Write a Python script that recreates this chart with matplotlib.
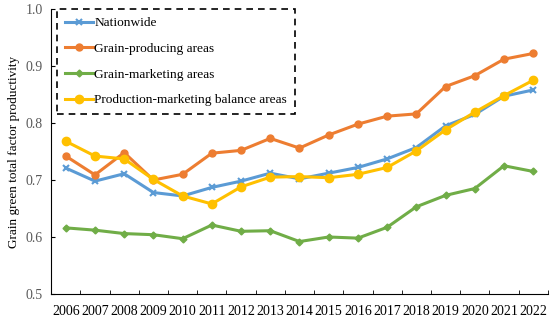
import numpy as np
import matplotlib.pyplot as plt

# data
years = [str(y) for y in range(2006, 2023)]
nationwide = [0.721, 0.698, 0.711, 0.678, 0.672, 0.687, 0.698, 0.712, 0.702, 0.712,
              0.722, 0.737, 0.757, 0.795, 0.815, 0.847, 0.858]
producing = [0.742, 0.709, 0.748, 0.700, 0.710, 0.747, 0.752, 0.773, 0.756, 0.779,
             0.798, 0.812, 0.816, 0.864, 0.883, 0.912, 0.922]
marketing = [0.616, 0.612, 0.606, 0.604, 0.597, 0.621, 0.610, 0.611, 0.592, 0.600,
             0.598, 0.617, 0.653, 0.673, 0.685, 0.725, 0.715]
balance = [0.768, 0.742, 0.737, 0.701, 0.672, 0.658, 0.688, 0.705, 0.706, 0.704,
           0.710, 0.722, 0.751, 0.788, 0.819, 0.848, 0.875]

plt.rcParams['font.family'] = ['Liberation Serif', 'DejaVu Serif']

fig = plt.figure(figsize=(5.5, 3.22), dpi=100)
ax = fig.add_axes([0.093, 0.087, 0.903, 0.885])
x = np.arange(len(years))

ax.plot(x, nationwide, color='#5B9BD5', lw=2.2, marker='x', ms=5, mew=1.5, label='Nationwide')
ax.plot(x, producing, color='#ED7D31', lw=2.2, marker='o', ms=5, label='Grain-producing areas')
ax.plot(x, marketing, color='#70AD47', lw=2.2, marker='D', ms=3.5, label='Grain-marketing areas')
ax.plot(x, balance, color='#FFC000', lw=2.2, marker='o', ms=6, label='Production-marketing balance areas')

ax.set_ylim(0.5, 1.0)
ax.set_yticks([0.5, 0.6, 0.7, 0.8, 0.9, 1.0])
ax.set_yticklabels(['0.5', '0.6', '0.7', '0.8', '0.9', '1.0'], color='#595959')
ax.set_ylabel('Grain green total factor productivity', fontsize=9.5)

ax.set_xlim(-0.5, len(years) - 0.5)
ax.set_xticks(x)
ax.set_xticklabels(years, fontsize=10)
ax.set_xticks(np.arange(-0.5, len(years)), minor=True)
ax.tick_params(axis='x', which='major', length=0, pad=8)
ax.tick_params(axis='x', which='minor', length=3, direction='in', color='#000000')
ax.tick_params(axis='y', length=3, direction='in', labelsize=10, pad=6)

for s in ['top', 'right']:
    ax.spines[s].set_visible(False)
ax.spines['left'].set_color('#000000')
ax.spines['bottom'].set_color('#000000')

leg = ax.legend(loc='upper left', bbox_to_anchor=(0.012, 1.0), borderaxespad=0,
                fontsize=9.6, handlelength=2.1, handletextpad=0.1, labelspacing=1.0,
                borderpad=0.6, fancybox=False, framealpha=1, edgecolor='black')
leg.get_frame().set_linestyle((0, (4, 3)))
leg.get_frame().set_linewidth(1.2)

fig.savefig('out.png', dpi=100)
